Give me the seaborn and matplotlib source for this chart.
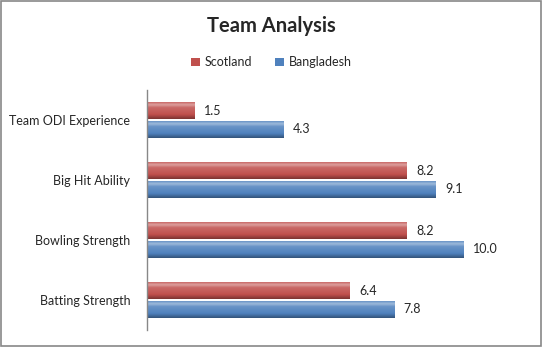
import matplotlib
matplotlib.use("Agg")
import matplotlib.pyplot as plt
import seaborn as sns
import pandas as pd
import numpy as np
from matplotlib.patches import Rectangle, Patch
from matplotlib.colors import to_rgb

categories = ["Team ODI Experience", "Big Hit Ability", "Bowling Strength", "Batting Strength"]
teams = ["Scotland", "Bangladesh"]
scotland = [1.5, 8.2, 8.2, 6.4]
bangladesh = [4.3, 9.1, 10.0, 7.8]
colors = {"Scotland": "#C0504D", "Bangladesh": "#4F81BD"}

df = pd.DataFrame({
    "category": categories * 2,
    "team": ["Scotland"] * 4 + ["Bangladesh"] * 4,
    "value": scotland + bangladesh,
})

sns.set_style("white")
plt.rcParams["font.family"] = ["Lato", "DejaVu Sans"]

fig = plt.figure(figsize=(5.43, 3.47), dpi=100)
ax = fig.add_axes([0.2707, 0.049, 0.70, 0.6916])
sns.barplot(data=df, y="category", x="value", hue="team", order=categories,
            hue_order=teams, palette=colors, orient="h", width=0.62, gap=0.08,
            ax=ax, legend=False, edgecolor="none", saturation=1)

# glossy gradient overlay clipped to each bar
def shade(c, f):
    c = np.array(to_rgb(c))
    if f >= 0:
        return c + (1 - c) * f
    return c * (1 + f)

stops = [(0.0, 0.05), (0.2, 0.45), (0.35, 0.15), (0.75, 0.0), (1.0, -0.35)]
for cont, team in zip(ax.containers, teams):
    base = colors[team]
    n = 40
    ts = np.linspace(0, 1, n)
    fs = np.interp(ts, [s[0] for s in stops], [s[1] for s in stops])
    grad = np.array([shade(base, f) for f in fs]).reshape(n, 1, 3)
    for p in cont.patches:
        x0, y0 = p.get_x(), p.get_y()
        w, h = p.get_width(), p.get_height()
        im = ax.imshow(grad, aspect="auto", extent=(x0, x0 + w, y0 + h, y0),
                       zorder=p.get_zorder() + 0.1, interpolation="bilinear")
        im.set_clip_path(p)

for cont in ax.containers:
    ax.bar_label(cont, fmt="%.1f", padding=7, fontsize=9)

ax.set_xlim(0, 12)
ax.set_ylim(3.5, -0.5)
ax.set_xlabel("")
ax.set_ylabel("")
ax.set_xticks([])
for s in ["top", "right", "bottom"]:
    ax.spines[s].set_visible(False)
ax.spines["left"].set_color("#888888")
ax.spines["left"].set_linewidth(1)
ax.tick_params(axis="y", length=0, pad=12, labelsize=9)

fig.text(0.5, 0.925, "Team Analysis", ha="center", va="center", fontsize=14.5, fontweight="bold")
handles = [Patch(facecolor=colors[t], edgecolor="none") for t in teams]
fig.legend(handles, teams, loc="center", bbox_to_anchor=(0.5, 0.82), ncol=2, frameon=False,
           fontsize=9, handlelength=0.7, handleheight=0.7, handletextpad=0.4, columnspacing=1.8)

fig.add_artist(Rectangle((0.002, 0.003), 0.995, 0.994, transform=fig.transFigure,
                         fill=False, edgecolor="#888888", linewidth=1.2))
fig.savefig("out.png", dpi=100)
